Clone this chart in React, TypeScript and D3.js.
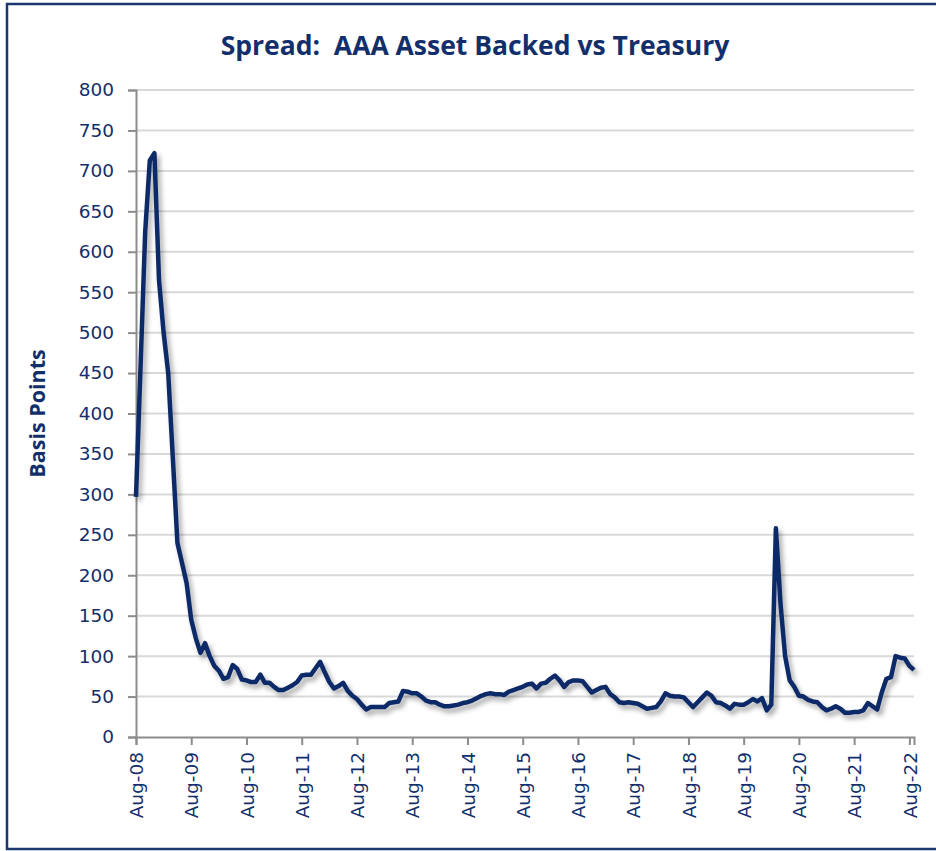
import React, { useEffect, useRef } from "react"
import { scaleLinear, axisLeft, axisBottom, select, line, range } from "d3"

/** Monthly spread in basis points, Aug-08 .. Sep-22 */
const months = ["Jan", "Feb", "Mar", "Apr", "May", "Jun", "Jul", "Aug", "Sep", "Oct", "Nov", "Dec"]
const spread = [
	297, 460, 625, 713, 722, 565, 500, 450, 345, 240,
	215, 190, 145, 122, 104, 116, 100, 88, 82, 72,
	74, 89, 84, 71, 70, 68, 68, 77, 67, 67,
	62, 58, 58, 61, 64, 68, 76, 77, 77, 85,
	93, 80, 68, 60, 63, 67, 57, 51, 47, 40,
	34, 37, 37, 37, 37, 42, 43, 44, 57, 56,
	54, 54, 50, 45, 43, 43, 40, 38, 38, 39,
	40, 42, 43, 45, 48, 51, 53, 54, 53, 53,
	52, 56, 58, 60, 62, 65, 66, 60, 66, 67,
	72, 76, 70, 62, 68, 70, 70, 69, 62, 55,
	58, 61, 62, 53, 49, 43, 42, 43, 42, 41,
	38, 35, 36, 37, 44, 54, 51, 50, 50, 49,
	43, 37, 43, 49, 55, 51, 43, 42, 39, 35,
	41, 40, 40, 43, 47, 44, 48, 33, 40, 258,
	165, 100, 70, 62, 51, 50, 46, 44, 43, 37,
	33, 35, 38, 35, 30, 30, 31, 31, 33, 42,
	38, 34, 55, 72, 74, 100, 98, 97, 88, 83,
]
/** Month labels, starting at Aug-08 */
const labels = spread.map((_, i) => {
	const m = (7 + i) % 12
	const y = 8 + Math.floor((7 + i) / 12)
	return `${months[m]}-${String(y).padStart(2, "0")}`
})
const yTicks = range(0, 801, 50)
const xTickIdx = range(0, spread.length, 12)

const navy = "#0d2a67"
const textColor = "#132f6b"

export default function App() {
	const width = 936
	const height = 851

	/** plot box */
	const left = 136
	const right = 914
	const top = 90
	const bottom = 737

	const xScale = scaleLinear().domain([0, spread.length - 1]).range([left, right])
	const yScale = scaleLinear().domain([0, 800]).range([bottom, top])

	const linePath = line<number>()
		.x((_, i) => xScale(i))
		.y(d => yScale(d))(spread)

	const yAxisRef = useRef<SVGGElement>(null)
	const xAxisRef = useRef<SVGGElement>(null)

	useEffect(() => {
		const g = select(yAxisRef.current)
		g.call(axisLeft(yScale).tickValues(yTicks).tickSize(8).tickPadding(14) as any)
		g.select(".domain").attr("stroke", "#8c8c8c").attr("stroke-width", 2)
		g.selectAll(".tick line").attr("stroke", "#8c8c8c").attr("stroke-width", 2)
		g.selectAll(".tick text")
			.attr("fill", textColor)
			.style("font-family", "'DejaVu Sans', sans-serif")
			.style("font-size", "18.5px")
	}, [])

	useEffect(() => {
		const g = select(xAxisRef.current)
		g.call(
			axisBottom(xScale)
				.tickValues(xTickIdx)
				.tickFormat((d: any) => labels[d])
				.tickSize(8)
				.tickSizeOuter(8) as any
		)
		g.select(".domain").attr("stroke", "#8c8c8c").attr("stroke-width", 2)
		g.selectAll(".tick line").attr("stroke", "#8c8c8c").attr("stroke-width", 2)
		g.selectAll(".tick text")
			.attr("fill", textColor)
			.attr("transform", "rotate(-90)")
			.attr("text-anchor", "end")
			.attr("x", -15)
			.attr("y", 0)
			.attr("dy", "0.36em")
			.style("font-family", "'DejaVu Sans', sans-serif")
			.style("font-size", "18.5px")
	}, [])

	return (
		<svg width={width} height={height} style={{ position: "absolute", left: 0, top: 0, background: "#fff" }}>
			<defs>
				<filter id="shadow" x="-10%" y="-10%" width="130%" height="130%">
					<feDropShadow dx="3" dy="4" stdDeviation="2.5" floodColor="#000" floodOpacity="0.35" />
				</filter>
			</defs>
			<rect x={7} y={4} width={width + 10} height={845} fill="#fff" stroke="#1c3670" strokeWidth={2.5} />
			<text
				x={475}
				y={55}
				textAnchor="middle"
				fill={textColor}
				style={{ fontFamily: "'Open Sans', sans-serif", fontWeight: 700, fontSize: 26.5 }}
			>
				Spread:{"\u00a0\u00a0"}AAA Asset Backed vs Treasury
			</text>
			<text
				transform={`translate(45, ${(top + bottom) / 2}) rotate(-90)`}
				textAnchor="middle"
				fill={textColor}
				style={{ fontFamily: "'Open Sans', sans-serif", fontWeight: 700, fontSize: 21.5 }}
			>
				Basis Points
			</text>
			<g>
				{yTicks.filter(t => t > 0).map(t => (
					<line key={t} x1={left} x2={right} y1={yScale(t)} y2={yScale(t)} stroke="#d9d9d9" strokeWidth={2} />
				))}
			</g>
			<g ref={yAxisRef} transform={`translate(${left}, 0)`} />
			<g ref={xAxisRef} transform={`translate(0, ${bottom})`} />
			<path
				d={linePath ?? ""}
				fill="none"
				stroke={navy}
				strokeWidth={4.5}
				strokeLinejoin="round"
				filter="url(#shadow)"
			/>
		</svg>
	)
}
